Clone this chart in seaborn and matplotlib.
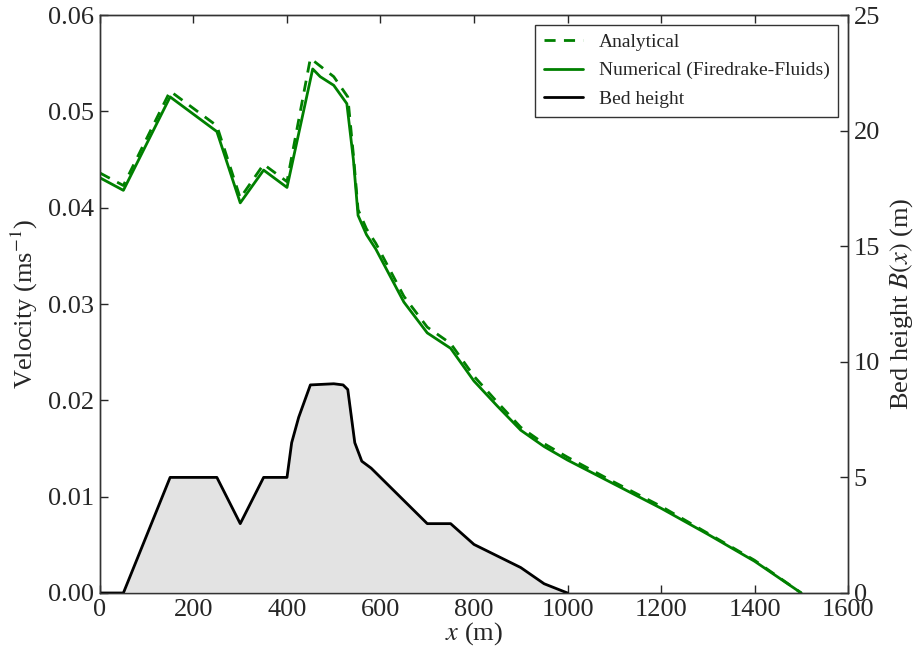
# Velocity along channel vs bed height (analytical vs numerical)
import numpy as np
import pandas as pd
import matplotlib
matplotlib.use("Agg")
import matplotlib.pyplot as plt
import seaborn as sns

# ---------- data ----------
x_ana = [0, 50, 150, 250, 300, 350, 400, 450, 500, 530, 542, 552, 570, 590,
         650, 700, 750, 800, 850, 900, 950, 1000, 1100, 1200, 1300, 1400, 1500]
v_ana = [0.0436, 0.0423, 0.0521, 0.0485, 0.0410, 0.0445, 0.0427, 0.0555, 0.0536,
         0.0515, 0.0455, 0.0398, 0.0378, 0.0363, 0.0308, 0.0276, 0.0259, 0.0225,
         0.0198, 0.0172, 0.0155, 0.0141, 0.0115, 0.0090, 0.0062, 0.0034, 0.0]

x_num = [0, 50, 150, 250, 300, 350, 400, 455, 471, 500, 528, 542, 552, 570, 590,
         650, 700, 750, 800, 850, 900, 950, 1000, 1100, 1200, 1300, 1400, 1500]
v_num = [0.0431, 0.0418, 0.0515, 0.0479, 0.0405, 0.0439, 0.0421, 0.0544, 0.0536,
         0.0527, 0.0508, 0.0450, 0.0392, 0.0372, 0.0357, 0.0302, 0.0270, 0.0254,
         0.0220, 0.0194, 0.0169, 0.0152, 0.0138, 0.0113, 0.0088, 0.0061, 0.0033, 0.0]

x_bed = [0, 50, 150, 250, 300, 350, 400, 410, 425, 450, 500, 520, 530, 545,
         560, 580, 700, 750, 800, 850, 900, 950, 1000]
b_bed = [0, 0, 5, 5, 3, 5, 5, 6.5, 7.6, 9, 9.05, 9.0, 8.8, 6.5,
         5.7, 5.4, 3, 3, 2.1, 1.6, 1.1, 0.4, 0]

# ---------- style ----------
sns.set_style("ticks")
plt.rcParams["font.family"] = ["Liberation Serif", "DejaVu Serif"]
plt.rcParams["mathtext.fontset"] = "stix"
plt.rcParams["xtick.direction"] = "in"
plt.rcParams["ytick.direction"] = "in"
plt.rcParams["axes.edgecolor"] = "#333333"

fig = plt.figure(figsize=(9.14, 6.5), dpi=100)
ax = fig.add_axes([0.1094, 0.0877, 0.8184, 0.8892])
ax2 = ax.twinx()

green = (0, 0.5, 0)

ana = pd.DataFrame({"x": x_ana, "v": v_ana})
num = pd.DataFrame({"x": x_num, "v": v_num})
bed = pd.DataFrame({"x": x_bed, "b": b_bed})

sns.lineplot(data=ana, x="x", y="v", ax=ax, color=green, lw=2,
             linestyle=(0, (4, 3)), label="Analytical", legend=False)
sns.lineplot(data=num, x="x", y="v", ax=ax, color=green, lw=2,
             label="Numerical (Firedrake-Fluids)", legend=False)

ax2.fill_between(bed["x"], bed["b"], 0, color="#e3e3e3", zorder=1)
sns.lineplot(data=bed, x="x", y="b", ax=ax2, color="black", lw=2,
             label="Bed height", legend=False)

ax.set_xlim(0, 1600)
ax.set_ylim(0, 0.06)
ax2.set_ylim(0, 25)
ax.set_xticks(np.arange(0, 1601, 200))
ax.set_yticks(np.arange(0, 0.061, 0.01))
ax.set_yticklabels([f"{t:.2f}" for t in np.arange(0, 0.061, 0.01)])
ax2.set_yticks(np.arange(0, 26, 5))

ax.tick_params(axis="both", labelsize=19, length=6, width=1, top=True, pad=4)
ax2.tick_params(axis="y", labelsize=19, length=6, width=1, pad=4)

ax.set_xlabel("$x$ (m)", fontsize=19, labelpad=0)
ax.set_ylabel("Velocity (ms$^{-1}$)", fontsize=19, labelpad=6)
ax2.set_ylabel("Bed height $B(x)$ (m)", fontsize=19, labelpad=6)

for a in (ax, ax2):
    for s in a.spines.values():
        s.set_linewidth(1)
        s.set_visible(True)

h1, l1 = ax.get_legend_handles_labels()
h2, l2 = ax2.get_legend_handles_labels()
leg = ax2.legend(h1 + h2, l1 + l2, loc="upper right", fontsize=14,
                 frameon=True, fancybox=False, edgecolor="black",
                 handlelength=2, borderaxespad=0.5, labelspacing=0.55,
                 borderpad=0.45)
leg.get_frame().set_linewidth(1)

fig.savefig("out.png", dpi=100)
